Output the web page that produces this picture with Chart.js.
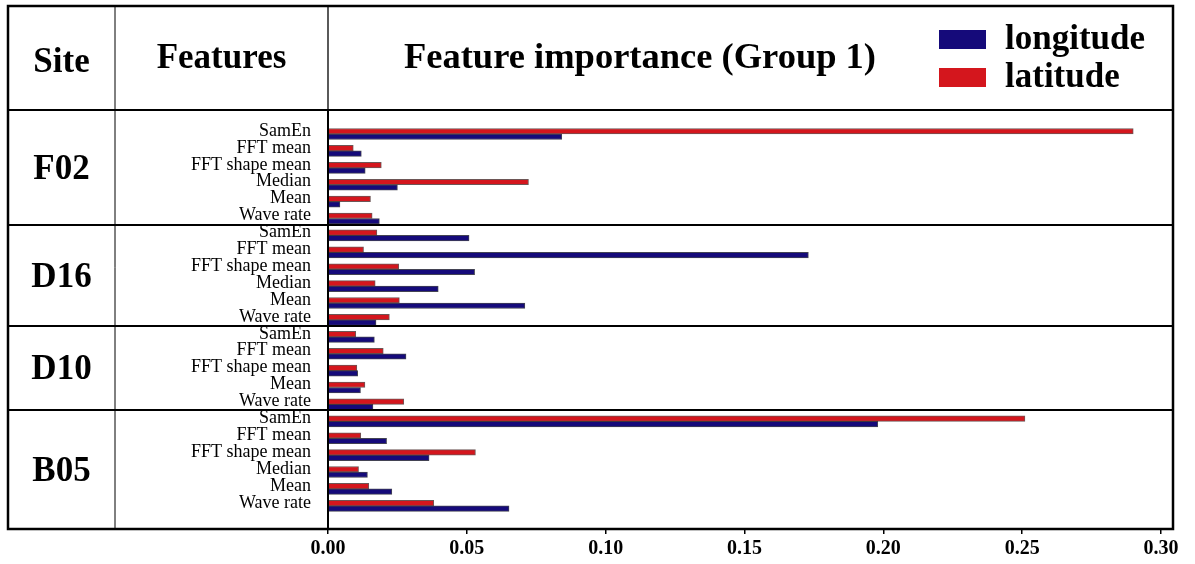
<!DOCTYPE html>
<html><head><meta charset="utf-8">
<script src="https://cdn.jsdelivr.net/npm/chart.js@4.4.0/dist/chart.umd.min.js"></script>
<style>html,body{margin:0;padding:0;background:#fff;} canvas{display:block;}</style>
</head><body>
<canvas id="c" width="1195" height="564"></canvas>
<script>
// ---- data ----
const sites = ['F02', 'D16', 'D10', 'B05'];
const f02Features = ['SamEn', 'FFT mean', 'FFT shape mean', 'Median', 'Mean', 'Wave rate'];
const f02Longitude = [0.0842, 0.0120, 0.0134, 0.0250, 0.0043, 0.0185];
const f02Latitude  = [0.2900, 0.0091, 0.0192, 0.0722, 0.0153, 0.0159];
const d16Features = ['SamEn', 'FFT mean', 'FFT shape mean', 'Median', 'Mean', 'Wave rate'];
const d16Longitude = [0.0508, 0.1730, 0.0528, 0.0397, 0.0709, 0.0173];
const d16Latitude  = [0.0176, 0.0128, 0.0255, 0.0170, 0.0257, 0.0221];
const d10Features = ['SamEn', 'FFT mean', 'FFT shape mean', 'Mean', 'Wave rate'];
const d10Longitude = [0.0167, 0.0281, 0.0107, 0.0117, 0.0162];
const d10Latitude  = [0.0100, 0.0199, 0.0104, 0.0133, 0.0273];
const b05Features = ['SamEn', 'FFT mean', 'FFT shape mean', 'Median', 'Mean', 'Wave rate'];
const b05Longitude = [0.1980, 0.0211, 0.0364, 0.0142, 0.0230, 0.0652];
const b05Latitude  = [0.2510, 0.0118, 0.0531, 0.0110, 0.0147, 0.0381];
const xTickValues = [0, 0.05, 0.10, 0.15, 0.20, 0.25, 0.30];
const seriesNames = ['longitude', 'latitude'];
const headerTexts = ['Site', 'Features', 'Feature importance (Group 1)'];

// ---- build combined table ----
const groups = [
  {site: sites[0], feats: f02Features, lon: f02Longitude, lat: f02Latitude},
  {site: sites[1], feats: d16Features, lon: d16Longitude, lat: d16Latitude},
  {site: sites[2], feats: d10Features, lon: d10Longitude, lat: d10Latitude},
  {site: sites[3], feats: b05Features, lon: b05Longitude, lat: b05Latitude}
];
const labels = [], lonPts = [], latPts = [], groupRanges = [];
groups.forEach(g => {
  const s = labels.length;
  g.feats.forEach((f, k) => {
    const i = labels.length;
    labels.push(f);
    lonPts.push({x: g.lon[k], y: i});
    latPts.push({x: g.lat[k], y: i});
  });
  groupRanges.push({site: g.site, start: s, end: labels.length - 1});
});

const BLUE = '#150a7a', RED = '#d4161d';
const BAR = 5.5;
const FONT = "'Liberation Serif', 'Times New Roman', serif";

const framePlugin = {
  id: 'frame',
  afterDraw(chart) {
    const {ctx, chartArea: ca, scales: {y}} = chart;
    const L = 8, R = 1173, T = 6, B = ca.bottom, H = ca.top, C1 = 115, C2 = ca.left;
    ctx.save();
    ctx.strokeStyle = '#000';
    const line = (x1, y1, x2, y2, w) => {
      ctx.lineWidth = w; ctx.beginPath(); ctx.moveTo(x1, y1); ctx.lineTo(x2, y2); ctx.stroke();
    };
    // group separators and site labels
    let top = H;
    ctx.fillStyle = '#000';
    ctx.font = 'bold 35px ' + FONT;
    ctx.textAlign = 'center';
    ctx.textBaseline = 'alphabetic';
    groupRanges.forEach((g, gi) => {
      const bottom = gi === groupRanges.length - 1 ? B : Math.round(y.getPixelForValue(g.end) + BAR + 0.5);
      if (gi < groupRanges.length - 1) line(L, bottom, R, bottom, 2);
      ctx.fillText(g.site, (L + C1) / 2, (top + bottom) / 2 + 11);
      top = bottom;
    });
    // column lines
    line(C1, T, C1, B, 1);
    line(C2, T, C2, H, 1.3);
    line(C2, H, C2, B, 2);
    // header bottom
    line(L, H, R, H, 2);
    // outer frame
    ctx.lineWidth = 2.5;
    ctx.strokeRect(L, T, R - L, B - T);
    // header texts
    ctx.fillText(headerTexts[0], (L + C1) / 2, 72);
    ctx.fillText(headerTexts[1], (C1 + C2) / 2, 68);
    ctx.font = 'bold 36.5px ' + FONT;
    ctx.fillText(headerTexts[2], 640, 68);
    // legend
    ctx.font = 'bold 35px ' + FONT;
    const leg = [[seriesNames[0], BLUE, 30], [seriesNames[1], RED, 68]];
    ctx.textAlign = 'left';
    leg.forEach(([t, c, yy]) => {
      ctx.fillStyle = c;
      ctx.fillRect(939, yy, 47, 19);
      ctx.fillStyle = '#000';
      ctx.fillText(t, 1005, yy + 19);
    });
    ctx.restore();
  }
};

new Chart(document.getElementById('c'), {
  type: 'bar',
  data: {
    datasets: [
      {label: seriesNames[1], data: latPts, backgroundColor: RED, borderColor: 'rgba(60,30,30,0.75)', borderWidth: 1, barThickness: BAR},
      {label: seriesNames[0], data: lonPts, backgroundColor: BLUE, borderColor: 'rgba(20,20,40,0.8)', borderWidth: 1, barThickness: BAR}
    ]
  },
  options: {
    indexAxis: 'y',
    responsive: false,
    animation: false,
    devicePixelRatio: 1,
    layout: {padding: {top: 110, right: 34, bottom: 0, left: 0}},
    plugins: {legend: {display: false}, tooltip: {enabled: false}, title: {display: false}},
    scales: {
      y: {
        type: 'linear',
        reverse: true,
        offset: false,
        min: -1.42,
        max: 23.37,
        afterBuildTicks: s => { s.ticks = labels.map((_, i) => ({value: i})); },
        afterFit: s => { s.width = 328; },
        grid: {display: true, drawOnChartArea: false, drawTicks: false, offset: false},
        border: {display: false},
        ticks: {
          autoSkip: false,
          padding: 17,
          labelOffset: -3,
          color: '#000',
          font: {family: FONT, size: 18},
          callback: v => labels[v]
        }
      },
      x: {
        type: 'linear',
        min: 0,
        max: 0.30,
        afterBuildTicks: s => { s.ticks = xTickValues.map(v => ({value: v})); },
        afterFit: s => { s.height = 35; },
        grid: {drawOnChartArea: false, drawTicks: true, tickLength: 5, color: '#000', lineWidth: 1.5},
        border: {display: false},
        ticks: {
          padding: 3,
          color: '#000',
          font: {family: FONT, size: 20, weight: 'bold'},
          callback: v => Number(v).toFixed(2)
        }
      }
    }
  },
  plugins: [framePlugin]
});
</script>
</body></html>
